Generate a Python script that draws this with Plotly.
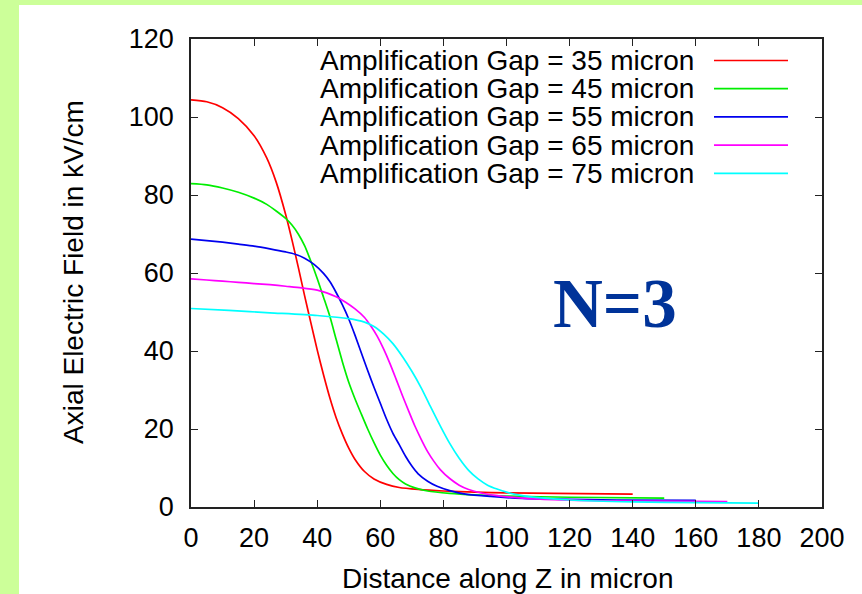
import plotly.graph_objects as go

# ---- data ----
z_35 = [0, 5, 10, 15, 20, 24, 27, 30, 32, 34, 36, 38, 40, 42, 44, 46, 48, 50, 52, 55, 58, 62,
        66, 72, 80, 90, 100, 115, 140]
e_35 = [104.4, 103.9, 102.4, 99.6, 95.2, 89.5, 83.3, 75.0, 68.5, 61.5, 54.2, 47.2, 40.3, 33.9,
        28.0, 22.9, 18.7, 15.1, 12.2, 9.1, 7.2, 5.8, 5.0, 4.5, 4.1, 3.8, 3.6, 3.5, 3.3]

z_45 = [0, 5, 10, 15, 20, 24, 27, 30, 32, 34, 36, 38, 40, 42, 44, 46, 48, 50, 52, 54, 56, 58,
        60, 62, 64, 66, 68, 71, 75, 82, 90, 100, 120, 150]
e_45 = [82.9, 82.6, 81.8, 80.7, 79.2, 77.6, 75.9, 74.0, 72.3, 70.0, 67.0, 63.0, 58.6, 53.8,
        48.9, 43.0, 37.2, 32.0, 27.7, 23.8, 20.0, 16.5, 13.3, 10.7, 8.6, 7.0, 5.9, 4.9, 4.1,
        3.5, 3.1, 2.8, 2.5, 2.3]

z_55 = [0, 5, 10, 15, 20, 25, 30, 33, 36, 39, 42, 44, 46, 48, 50, 52, 54, 56, 58, 60, 62, 64,
        66, 68, 70, 72, 75, 78, 82, 87, 95, 105, 115, 135, 160]
e_55 = [68.7, 68.3, 67.9, 67.4, 66.9, 66.2, 65.4, 64.8, 63.8, 62.2, 59.9, 57.8, 55.0, 51.8,
        48.2, 44.0, 39.5, 35.0, 30.7, 26.6, 22.5, 18.9, 16.0, 13.0, 10.5, 8.5, 6.6, 5.3, 4.2,
        3.3, 2.7, 2.2, 2.0, 1.8, 1.7]

z_65 = [0, 5, 10, 15, 20, 25, 30, 35, 40, 43, 46, 49, 52, 55, 57, 59, 61, 63, 65, 67, 69, 71,
        73, 75, 77, 79, 82, 85, 88, 92, 97, 105, 115, 130, 150, 170]
e_65 = [58.5, 58.2, 57.9, 57.6, 57.3, 57.0, 56.6, 56.2, 55.6, 54.9, 53.9, 52.5, 50.8, 48.6,
        46.4, 43.8, 40.6, 36.9, 32.8, 28.6, 24.6, 20.7, 17.3, 14.2, 11.7, 9.6, 7.3, 5.6, 4.5,
        3.6, 2.9, 2.3, 1.9, 1.6, 1.5, 1.4]

z_75 = [0, 12, 25, 40, 50, 55, 58, 61, 64, 67, 70, 73, 76, 79, 82, 85, 88, 91, 94, 97, 100,
        105, 110, 120, 140, 160, 180]
e_75 = [50.9, 50.4, 49.8, 49.1, 48.3, 47.4, 46.3, 44.4, 41.9, 38.6, 34.8, 30.5, 25.6, 20.8,
        16.3, 12.5, 9.4, 7.2, 5.6, 4.6, 3.8, 2.9, 2.4, 1.8, 1.3, 1.1, 1.0]

series_names = ["Amplification Gap = 35 micron", "Amplification Gap = 45 micron",
                "Amplification Gap = 55 micron", "Amplification Gap = 65 micron",
                "Amplification Gap = 75 micron"]
series_z = [z_35, z_45, z_55, z_65, z_75]
series_e = [e_35, e_45, e_55, e_65, e_75]
colors = ["#ff0000", "#00ee00", "#0000ee", "#ff00ff", "#00ffff"]

x_ticks = list(range(0, 201, 20))
y_ticks = list(range(0, 121, 20))

# ---- layout geometry (pixels) ----
W_FIG, H_FIG = 862, 594
L, R, T, B = 191, 822, 39, 507
PW, PH = R - L, B - T


def px(xp):
    return (xp - L) / PW


def py(yp):
    return (B - yp) / PH


FONT = "Liberation Sans, Arial, sans-serif"

fig = go.Figure()
for name, zs, es, c in zip(series_names, series_z, series_e, colors):
    fig.add_trace(go.Scatter(x=zs, y=es, mode="lines", name=name,
                             line=dict(color=c, width=1.7, shape="spline", smoothing=0.7),
                             showlegend=False))

shapes = [dict(type="rect", xref="paper", yref="paper", x0=px(19), x1=px(900),
               y0=py(640), y1=py(5), fillcolor="white", line=dict(width=0), layer="below")]
annotations = []
row_y0, row_dy = 60.5, 28.2
for i, (name, c) in enumerate(zip(series_names, colors)):
    yy = py(row_y0 + i * row_dy)
    annotations.append(dict(xref="paper", yref="paper", x=px(696), y=yy, text=name,
                            showarrow=False, xanchor="right", yanchor="middle",
                            font=dict(family=FONT, size=28, color="black")))
    shapes.append(dict(type="line", xref="paper", yref="paper", x0=px(714), x1=px(788),
                       y0=yy, y1=yy, line=dict(color=c, width=1.7)))

annotations.append(dict(xref="paper", yref="paper", x=px(615), y=py(304), text="<b>N=3</b>",
                        showarrow=False, xanchor="center", yanchor="middle",
                        font=dict(family="Liberation Serif, Times New Roman, serif", size=69,
                                  color="#003399")))
annotations.append(dict(xref="paper", yref="paper", x=px(507), y=py(578),
                        text="Distance along Z in micron", showarrow=False,
                        xanchor="center", yanchor="middle",
                        font=dict(family=FONT, size=28, color="black")))
annotations.append(dict(xref="paper", yref="paper", x=px(73), y=py(272),
                        text="Axial Electric Field in kV/cm", showarrow=False, textangle=-90,
                        xanchor="center", yanchor="middle",
                        font=dict(family=FONT, size=28, color="black")))

axis_common = dict(showgrid=False, zeroline=False, showline=True, linecolor="#222222",
                   linewidth=1.6, mirror="allticks", ticks="inside", ticklen=7,
                   tickwidth=1.3, tickcolor="#222222", automargin=False,
                   tickfont=dict(family=FONT, size=27, color="black"))

fig.update_layout(
    width=W_FIG, height=H_FIG,
    margin=dict(l=L, r=W_FIG - R, t=T, b=H_FIG - B, pad=0),
    paper_bgcolor="#ccff99", plot_bgcolor="white",
    xaxis=dict(range=[0, 200], tickvals=x_ticks, ticktext=[str(v) for v in x_ticks],
               ticklabelstandoff=6, **axis_common),
    yaxis=dict(range=[0, 120], tickvals=y_ticks, ticktext=[str(v) for v in y_ticks],
               ticklabelstandoff=10, **axis_common),
    shapes=shapes, annotations=annotations, showlegend=False,
)

fig.write_html("out.html")
